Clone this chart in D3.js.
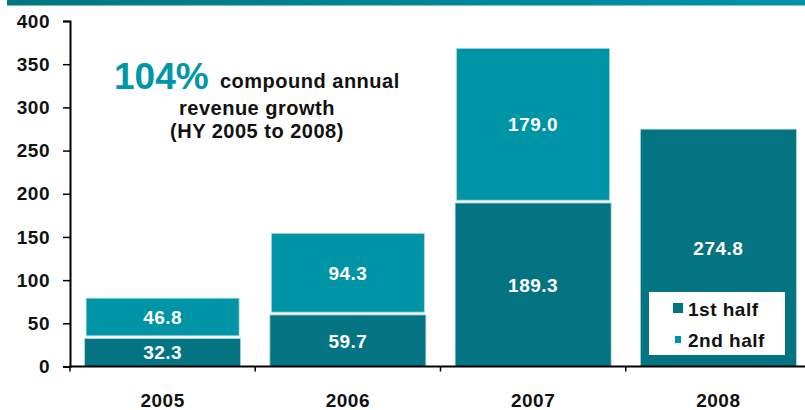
<!DOCTYPE html>
<html>
<head>
<meta charset="utf-8">
<script src="https://cdn.jsdelivr.net/npm/d3@7"></script>
<style>
  html, body { margin: 0; padding: 0; background: #ffffff; }
  svg { display: block; font-family: Arial, "Liberation Sans", sans-serif; font-weight: bold; letter-spacing: 0.5px; }
</style>
</head>
<body>
<svg id="chart" width="805" height="410"></svg>
<script>
// data
const years = ["2005", "2006", "2007", "2008"];
const firstHalf = [32.3, 59.7, 189.3, 274.8];
const secondHalf = [46.8, 94.3, 179.0, 0];
const yTicks = [0, 50, 100, 150, 200, 250, 300, 350, 400];
const seriesNames = ["1st half", "2nd half"];

const colDark = "#047483";
const colLight = "#0094a7";
const fs = "19px";

const svg = d3.select("#chart");

// top band
const defs = svg.append("defs");
const grad = defs.append("linearGradient").attr("id", "band").attr("x1", 0).attr("x2", 1);
grad.append("stop").attr("offset", 0).attr("stop-color", "#027582");
grad.append("stop").attr("offset", 1).attr("stop-color", "#0094a8");
svg.append("rect").attr("x", 7).attr("y", 0).attr("width", 798).attr("height", 5.5).attr("fill", "url(#band)");

const x = d3.scaleBand().domain(years).range([70, 811]).padding(0);
const y = d3.scaleLinear().domain([0, 400]).range([366.5, 21]);
const barW = x.bandwidth() * 0.842;

const data = years.map((d, i) => ({ year: d, a: firstHalf[i], b: secondHalf[i] }));

// bars
const g = svg.append("g");
const barGroups = g.selectAll("g.bar").data(data).enter().append("g").attr("class", "bar");

barGroups.append("rect")
  .attr("x", d => x(d.year) + (x.bandwidth() - barW) / 2)
  .attr("y", d => y(d.a))
  .attr("width", barW)
  .attr("height", d => y(0) - y(d.a))
  .attr("fill", colDark)
  .attr("stroke", "#a9d6dd")
  .attr("stroke-width", 0.8);

barGroups.filter(d => d.b > 0).append("rect")
  .attr("x", d => x(d.year) + (x.bandwidth() - barW) / 2 + 1.5)
  .attr("y", d => y(d.a + d.b))
  .attr("width", barW - 3)
  .attr("height", d => y(d.a) - y(d.a + d.b) - 2.8)
  .attr("fill", colLight)
  .attr("stroke", "#a9d6dd")
  .attr("stroke-width", 0.8);

// value labels
barGroups.append("text")
  .attr("x", d => x(d.year) + x.bandwidth() / 2)
  .attr("y", d => (y(d.a) + y(0)) / 2)
  .attr("dy", "0.36em")
  .attr("text-anchor", "middle")
  .attr("fill", "#ffffff")
  .style("font-size", fs)
  .text(d => d.a.toFixed(1));

barGroups.filter(d => d.b > 0).append("text")
  .attr("x", d => x(d.year) + x.bandwidth() / 2)
  .attr("y", d => (y(d.a + d.b) + y(d.a) - 2.8) / 2)
  .attr("dy", "0.36em")
  .attr("text-anchor", "middle")
  .attr("fill", "#ffffff")
  .style("font-size", fs)
  .text(d => d.b.toFixed(1));

// y axis
const yAxis = svg.append("g")
  .attr("transform", "translate(70,0)")
  .call(d3.axisLeft(y).tickValues(yTicks).tickSize(7).tickPadding(13));
yAxis.select(".domain").attr("stroke", "#000").attr("stroke-width", 2);
yAxis.selectAll(".tick line").attr("stroke", "#000").attr("stroke-width", 1.5);
yAxis.selectAll(".tick text")
  .attr("fill", "#111")
  .style("font-size", fs)
  .style("font-family", "Arial, 'Liberation Sans', sans-serif")
  .style("font-weight", "bold");

// x axis: baseline with ticks at category boundaries
svg.append("line")
  .attr("x1", 69).attr("x2", 805)
  .attr("y1", y(0)).attr("y2", y(0))
  .attr("stroke", "#000").attr("stroke-width", 2.2);
svg.selectAll("line.xtick").data(years).enter().append("line")
  .attr("class", "xtick")
  .attr("x1", d => x(d)).attr("x2", d => x(d))
  .attr("y1", y(0)).attr("y2", y(0) + 5)
  .attr("stroke", "#000").attr("stroke-width", 1.5);
svg.selectAll("text.xlab").data(years).enter().append("text")
  .attr("class", "xlab")
  .attr("x", d => x(d) + x.bandwidth() / 2)
  .attr("y", 407)
  .attr("text-anchor", "middle")
  .attr("fill", "#111")
  .style("font-size", fs)
  .text(d => d);

// annotation
svg.append("text").attr("x", 114).attr("y", 89)
  .attr("fill", "#0096a8").style("font-size", "37px").style("letter-spacing", "0px").text("104%");
svg.append("text").attr("x", 220).attr("y", 88)
  .attr("fill", "#111").style("font-size", "20px").text("compound annual");
svg.append("text").attr("x", 257).attr("y", 115).attr("text-anchor", "middle")
  .attr("fill", "#111").style("font-size", "20px").text("revenue growth");
svg.append("text").attr("x", 257).attr("y", 138).attr("text-anchor", "middle")
  .attr("fill", "#111").style("font-size", "20px").text("(HY 2005 to 2008)");

// legend
const legend = svg.append("g").attr("transform", "translate(649,292)");
legend.append("rect").attr("width", 136).attr("height", 63).attr("fill", "#ffffff");
const legendItems = legend.selectAll("g.item").data(seriesNames).enter().append("g")
  .attr("class", "item")
  .attr("transform", (d, i) => `translate(0,${i * 31})`);
legendItems.append("rect")
  .attr("x", (d, i) => i === 0 ? 24 : 26)
  .attr("y", (d, i) => i === 0 ? 11 : 13)
  .attr("width", (d, i) => i === 0 ? 10 : 6)
  .attr("height", (d, i) => i === 0 ? 10 : 7)
  .attr("fill", (d, i) => i === 0 ? colDark : colLight);
legendItems.append("text")
  .attr("x", 39).attr("y", 24)
  .attr("fill", "#111").style("font-size", fs)
  .text(d => d);
</script>
</body>
</html>
